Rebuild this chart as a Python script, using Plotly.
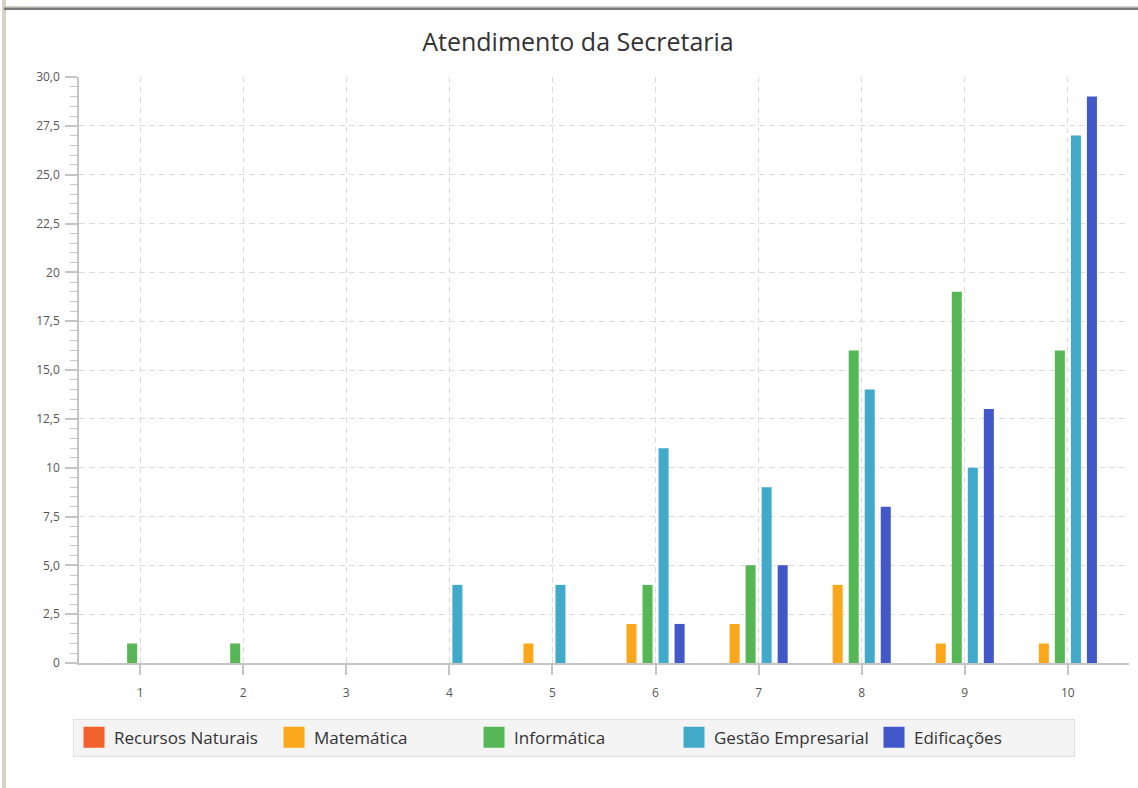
import plotly.graph_objects as go

categories = [1, 2, 3, 4, 5, 6, 7, 8, 9, 10]
series_names = ["Recursos Naturais", "Matemática", "Informática", "Gestão Empresarial", "Edificações"]
recursos_naturais = [0, 0, 0, 0, 0, 0, 0, 0, 0, 0]
matematica = [0, 0, 0, 0, 1, 2, 2, 4, 1, 1]
informatica = [1, 1, 0, 0, 0, 4, 5, 16, 19, 16]
gestao_empresarial = [0, 0, 0, 4, 4, 11, 9, 14, 10, 27]
edificacoes = [0, 0, 0, 0, 0, 2, 5, 8, 13, 29]
series_values = [recursos_naturais, matematica, informatica, gestao_empresarial, edificacoes]
colors = ["#f3622d", "#fba71b", "#57b757", "#41a9c9", "#4258c9"]

y_tickvals = [0, 2.5, 5, 7.5, 10, 12.5, 15, 17.5, 20, 22.5, 25, 27.5, 30]
y_ticktext = ["0", "2,5", "5,0", "7,5", "10", "12,5", "15,0", "17,5", "20", "22,5", "25,0", "27,5", "30,0"]
x_ticktext = ["1", "2", "3", "4", "5", "6", "7", "8", "9", "10"]

FONT = "Open Sans"
fig = go.Figure()

for name, vals, col in zip(series_names, series_values, colors):
    fig.add_trace(go.Bar(x=categories, y=vals, name=name, marker_color=col,
                         marker_line_width=0, showlegend=False, hoverinfo="x+y+name"))
# empty slot so the group is placed like the original chart
fig.add_trace(go.Bar(x=categories, y=[0] * len(categories), showlegend=False,
                     marker_line_width=0, hoverinfo="skip", marker_color="rgba(0,0,0,0)"))

for name, col in zip(series_names, colors):
    fig.add_trace(go.Scatter(x=[None], y=[None], mode="markers", name=name,
                             marker=dict(symbol="square", size=22, color=col,
                                         line=dict(width=6, color=col))))

grid_col = "#dcdcdc"
axis_col = "#c4c4c4"
fig.update_layout(
    width=1138, height=788,
    paper_bgcolor="white", plot_bgcolor="white",
    margin=dict(l=79, r=9, t=76.5, b=125),
    barmode="group", bargap=0.067, bargroupgap=0.375,
    title=dict(text="Atendimento da Secretaria", x=578 / 1138, xanchor="center",
               y=1 - 42 / 788, yanchor="middle", xref="container", yref="container",
               font=dict(family=FONT, size=25, color="#333333")),
    font=dict(family=FONT, color="#555555"),
    legend=dict(orientation="h", x=-0.0057, y=-0.095, xanchor="left", yanchor="top",
                bgcolor="#f4f4f4", bordercolor="#e0e0e0", borderwidth=1,
                entrywidth=155, entrywidthmode="pixels", itemwidth=30,
                font=dict(family=FONT, size=17, color="#333333"), itemsizing="trace"),
    xaxis=dict(range=[0.407, 10.593], tickvals=categories, ticktext=x_ticktext,
               showgrid=True, gridcolor=grid_col, griddash="6px,4px", gridwidth=1,
               showline=True, linecolor=axis_col, linewidth=1.5,
               ticks="outside", ticklen=10, tickcolor=axis_col, tickwidth=1.5,
               tickfont=dict(size=12, color="#555555"), ticklabelstandoff=8,
               zeroline=False),
    yaxis=dict(range=[0, 30], tickvals=y_tickvals, ticktext=y_ticktext,
               showgrid=True, gridcolor=grid_col, griddash="6px,4px", gridwidth=1,
               showline=True, linecolor=axis_col, linewidth=1.5,
               ticks="outside", ticklen=12, tickcolor=axis_col, tickwidth=1.5,
               tickfont=dict(size=12, color="#555555"), ticklabelstandoff=3,
               minor=dict(dtick=0.5, ticks="outside", ticklen=7, tickcolor=axis_col,
                          tickwidth=1, showgrid=False),
               zeroline=False),
)

# window frame decorations (left beige strip, top border line)
fig.add_shape(type="rect", xref="paper", yref="paper", xsizemode="pixel", ysizemode="pixel",
              xanchor=0, yanchor=0, x0=-77, x1=-73, y0=-125, y1=663,
              fillcolor="#d6d2c8", line_width=0, layer="above")
fig.add_shape(type="rect", xref="paper", yref="paper", xsizemode="pixel", ysizemode="pixel",
              xanchor=0, yanchor=0, x0=-75, x1=1060, y0=655.5, y1=657,
              fillcolor="#d6d2c8", line_width=0, layer="above")
fig.add_shape(type="rect", xref="paper", yref="paper", xsizemode="pixel", ysizemode="pixel",
              xanchor=0, yanchor=0, x0=-75, x1=1060, y0=653, y1=655.5,
              fillcolor="#787878", line_width=0, layer="above")

fig.write_html("out.html", config={"displayModeBar": False},
               post_script="document.body.style.margin='0';")
